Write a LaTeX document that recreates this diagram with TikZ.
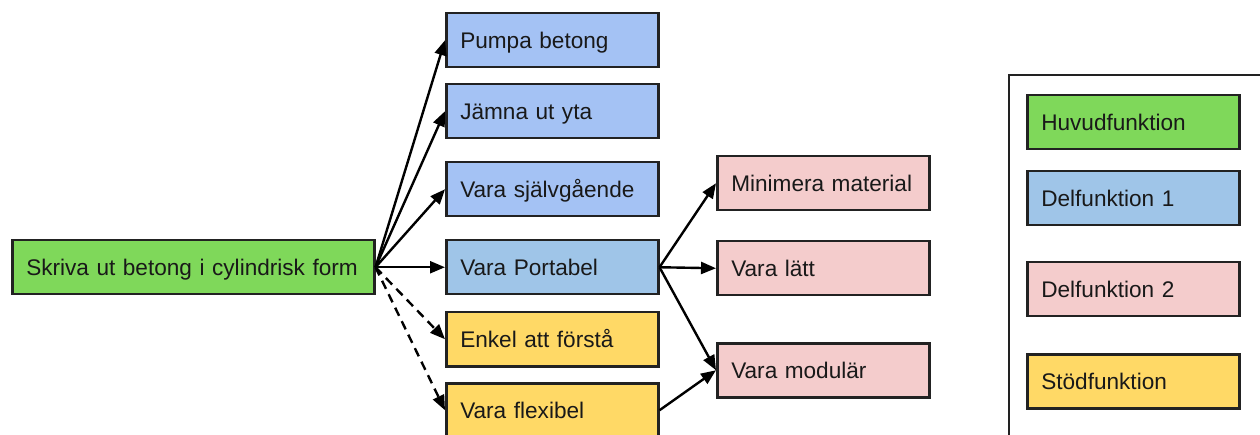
\documentclass[tikz,border=0pt]{standalone}
\usepackage{fontspec}
\setmainfont{Liberation Sans}
\usetikzlibrary{arrows.meta}
\definecolor{mainfill}{HTML}{7FD85A}
\definecolor{subfill}{HTML}{A4C2F4}
\definecolor{portfill}{HTML}{9FC5E8}
\definecolor{subtwofill}{HTML}{F4CCCC}
\definecolor{supportfill}{HTML}{FFD966}
\definecolor{edgecol}{HTML}{222222}
\tikzset{
  fbox/.style={draw=edgecol, line width=2.5pt, anchor=north west,
    minimum height=54pt, inner xsep=14pt, inner ysep=0pt, align=left,
    text height=16.2pt, text depth=0pt,
    font=\fontsize{22.6}{27}\selectfont, text=black!90},
  wide/.style={minimum width=362pt, text width=334pt},
  std/.style={minimum width=212pt, text width=184pt},
  link/.style={line width=2.4pt, draw=black, -{Triangle[length=15pt,width=12pt]}},
  dlink/.style={link, dash pattern=on 9pt off 6pt},
}
\begin{document}
\begin{tikzpicture}[x=1pt, y=-1pt]
\useasboundingbox (0,0) rectangle (1260,435);
\clip (0,0) rectangle (1260,435);

% main function
\node[fbox, wide, fill=mainfill] (main) at (11,239) {Skriva ut betong i cylindrisk form};

% first-level sub functions
\node[fbox, std, fill=subfill] (pumpa) at (445,12) {Pumpa betong};
\node[fbox, std, fill=subfill] (jamna) at (445,83) {Jämna ut yta};
\node[fbox, std, fill=subfill] (sjalv) at (445,161) {Vara självgående};
\node[fbox, std, fill=portfill] (port) at (445,239) {Vara Portabel};

% support functions
\node[fbox, std, fill=supportfill] (enkel) at (445,311) {Enkel att förstå};
\node[fbox, std, fill=supportfill] (flex) at (445,382) {Vara flexibel};

% second-level sub functions
\node[fbox, std, minimum width=211pt, fill=subtwofill] (minm) at (716,155) {Minimera material};
\node[fbox, std, minimum width=211pt, fill=subtwofill] (latt) at (716,240) {Vara lätt};
\node[fbox, std, minimum width=211pt, fill=subtwofill] (modul) at (716,342) {Vara modulär};

% connectors
\draw[link] (main.east) -- (pumpa.west);
\draw[link] (main.east) -- (jamna.west);
\draw[link] (main.east) -- (sjalv.west);
\draw[link] (main.east) -- (port.west);
\draw[dlink] (main.east) -- (enkel.west);
\draw[dlink] (main.east) -- (flex.west);
\draw[link] (port.east) -- (minm.west);
\draw[link] (port.east) -- (latt.west);
\draw[link] (port.east) -- (modul.west);
\draw[link] (flex.east) -- (modul.west);

% legend
\draw[draw=edgecol, line width=2.5pt] (1009,75) rectangle (1280,460);
\node[fbox, std, fill=mainfill] (lmain) at (1026,94) {Huvudfunktion};
\node[fbox, std, fill=portfill] (lsub) at (1026,170) {Delfunktion 1};
\node[fbox, std, fill=subtwofill] (lsubtwo) at (1026,261) {Delfunktion 2};
\node[fbox, std, fill=supportfill] (lsupp) at (1026,353) {Stödfunktion};
\end{tikzpicture}
\end{document}
